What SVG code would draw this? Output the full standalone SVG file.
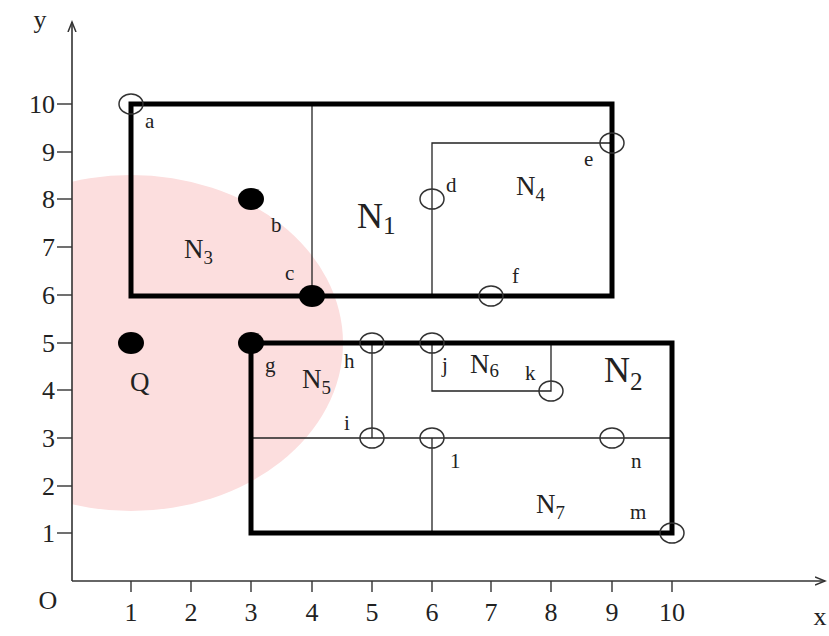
<svg xmlns="http://www.w3.org/2000/svg" width="829" height="636" viewBox="0 0 829 636">
<style>
text{font-family:"Liberation Serif","DejaVu Serif",serif;fill:#222}
.tk{font-size:26px}
.lb{font-size:21px}
.big{font-size:36px}
.mid{font-size:27px}
.sub{font-size:0.7em}
.thick{fill:none;stroke:#000;stroke-width:5}
.thin{fill:none;stroke:#222;stroke-width:1.3}
.axis{fill:none;stroke:#333;stroke-width:1.6}
.open{fill:none;stroke:#333;stroke-width:1.5}
.fill{fill:#000}
</style>
<defs>
<marker id="arr" markerWidth="12" markerHeight="12" refX="10" refY="6" orient="auto" markerUnits="userSpaceOnUse">
<polyline points="0,2 10,6 0,10" fill="none" stroke="#333" stroke-width="1.5"/>
</marker>
<clipPath id="clipR"><rect x="72" y="0" width="757" height="636"/></clipPath>
</defs>
<rect width="829" height="636" fill="#fff"/>
<g id="query-region" clip-path="url(#clipR)">
<ellipse cx="131" cy="343" rx="212" ry="168" fill="#fcdede"/>
</g>
<g id="axes">
<line class="axis" x1="72" y1="581" x2="825" y2="581" marker-end="url(#arr)"/>
<line class="axis" x1="72" y1="581" x2="72" y2="22" marker-end="url(#arr)"/>
<g stroke="#333" stroke-width="1.4">
<line x1="57" y1="104" x2="72" y2="104"/><line x1="57" y1="152" x2="72" y2="152"/>
<line x1="57" y1="199" x2="72" y2="199"/><line x1="57" y1="247" x2="72" y2="247"/>
<line x1="57" y1="295" x2="72" y2="295"/><line x1="57" y1="343" x2="72" y2="343"/>
<line x1="57" y1="390" x2="72" y2="390"/><line x1="57" y1="438" x2="72" y2="438"/>
<line x1="57" y1="486" x2="72" y2="486"/><line x1="57" y1="533" x2="72" y2="533"/>
<line x1="131" y1="581" x2="131" y2="592"/><line x1="191" y1="581" x2="191" y2="592"/>
<line x1="251" y1="581" x2="251" y2="592"/><line x1="312" y1="581" x2="312" y2="592"/>
<line x1="372" y1="581" x2="372" y2="592"/><line x1="432" y1="581" x2="432" y2="592"/>
<line x1="491" y1="581" x2="491" y2="592"/><line x1="551" y1="581" x2="551" y2="592"/>
<line x1="612" y1="581" x2="612" y2="592"/><line x1="672" y1="581" x2="672" y2="592"/>
</g>
<g class="tk" text-anchor="end">
<text x="55" y="113">10</text><text x="55" y="161">9</text><text x="55" y="208">8</text>
<text x="55" y="256">7</text><text x="55" y="304">6</text><text x="55" y="352">5</text>
<text x="55" y="399">4</text><text x="55" y="447">3</text><text x="55" y="495">2</text>
<text x="55" y="542">1</text>
</g>
<g class="tk" text-anchor="middle">
<text x="131" y="621">1</text><text x="191" y="621">2</text><text x="251" y="621">3</text>
<text x="312" y="621">4</text><text x="372" y="621">5</text><text x="432" y="621">6</text>
<text x="491" y="621">7</text><text x="551" y="621">8</text><text x="612" y="621">9</text>
<text x="672" y="621">10</text>
</g>
<text class="tk" x="48" y="609" text-anchor="middle">O</text>
<text class="tk" x="820" y="625" text-anchor="middle">x</text>
<text class="tk" x="40" y="28" text-anchor="middle">y</text>
</g>
<g id="connectors">
<line class="thin" x1="312" y1="104" x2="312" y2="296"/>
<polyline class="thin" points="432,296 432,143 612,143"/>
<line class="thin" x1="372" y1="343" x2="372" y2="438"/>
<line class="thin" x1="251" y1="438" x2="672" y2="438"/>
<polyline class="thin" points="432,343 432,391 551,391 551,343"/>
<line class="thin" x1="432" y1="438" x2="432" y2="533"/>
</g>
<g id="N1"><rect class="thick" x="131" y="104" width="481" height="192"/>
<text class="big" x="357" y="228">N<tspan class="sub" dy="6">1</tspan></text></g>
<g id="N2"><rect class="thick" x="251" y="343" width="421" height="190"/>
<text class="big" x="604" y="382">N<tspan class="sub" dy="8">2</tspan></text></g>
<g id="N3"><text class="mid" x="184" y="258">N<tspan class="sub" dy="6">3</tspan></text></g>
<g id="N4"><text class="mid" x="516" y="195">N<tspan class="sub" dy="6">4</tspan></text></g>
<g id="N5"><text class="mid" x="302" y="388">N<tspan class="sub" dy="6">5</tspan></text></g>
<g id="N6"><text class="mid" x="470" y="373">N<tspan class="sub" dy="4">6</tspan></text></g>
<g id="N7"><text class="mid" x="536" y="513">N<tspan class="sub" dy="6">7</tspan></text></g>
<g id="points">
<ellipse class="open" cx="131" cy="104" rx="12" ry="10"/>
<ellipse class="open" cx="432" cy="199" rx="12" ry="10"/>
<ellipse class="open" cx="612" cy="143" rx="12" ry="10"/>
<ellipse class="open" cx="491" cy="296" rx="12" ry="10"/>
<ellipse class="open" cx="372" cy="343" rx="12" ry="10"/>
<ellipse class="open" cx="432" cy="343" rx="12" ry="10"/>
<ellipse class="open" cx="551" cy="391" rx="12" ry="10"/>
<ellipse class="open" cx="372" cy="438" rx="12" ry="10"/>
<ellipse class="open" cx="432" cy="438" rx="12" ry="10"/>
<ellipse class="open" cx="612" cy="438" rx="12" ry="10"/>
<ellipse class="open" cx="672" cy="533" rx="12" ry="10"/>
<ellipse class="fill" cx="251" cy="199" rx="13" ry="11"/>
<ellipse class="fill" cx="312" cy="296" rx="13" ry="11"/>
<ellipse class="fill" cx="131" cy="343" rx="13" ry="11"/>
<ellipse class="fill" cx="251" cy="343" rx="13" ry="11"/>
</g>
<g id="labels" class="lb">
<text x="145" y="128">a</text>
<text x="271" y="232">b</text>
<text x="285" y="280">c</text>
<text x="446" y="192">d</text>
<text x="584" y="166">e</text>
<text x="512" y="283">f</text>
<text x="265" y="372">g</text>
<text x="344" y="368">h</text>
<text x="344" y="430">i</text>
<text x="442" y="372">j</text>
<text x="525" y="380">k</text>
<text x="450" y="468">1</text>
<text x="631" y="468">n</text>
<text x="630" y="519">m</text>
<text class="mid" x="130" y="391">Q</text>
</g>
</svg>
